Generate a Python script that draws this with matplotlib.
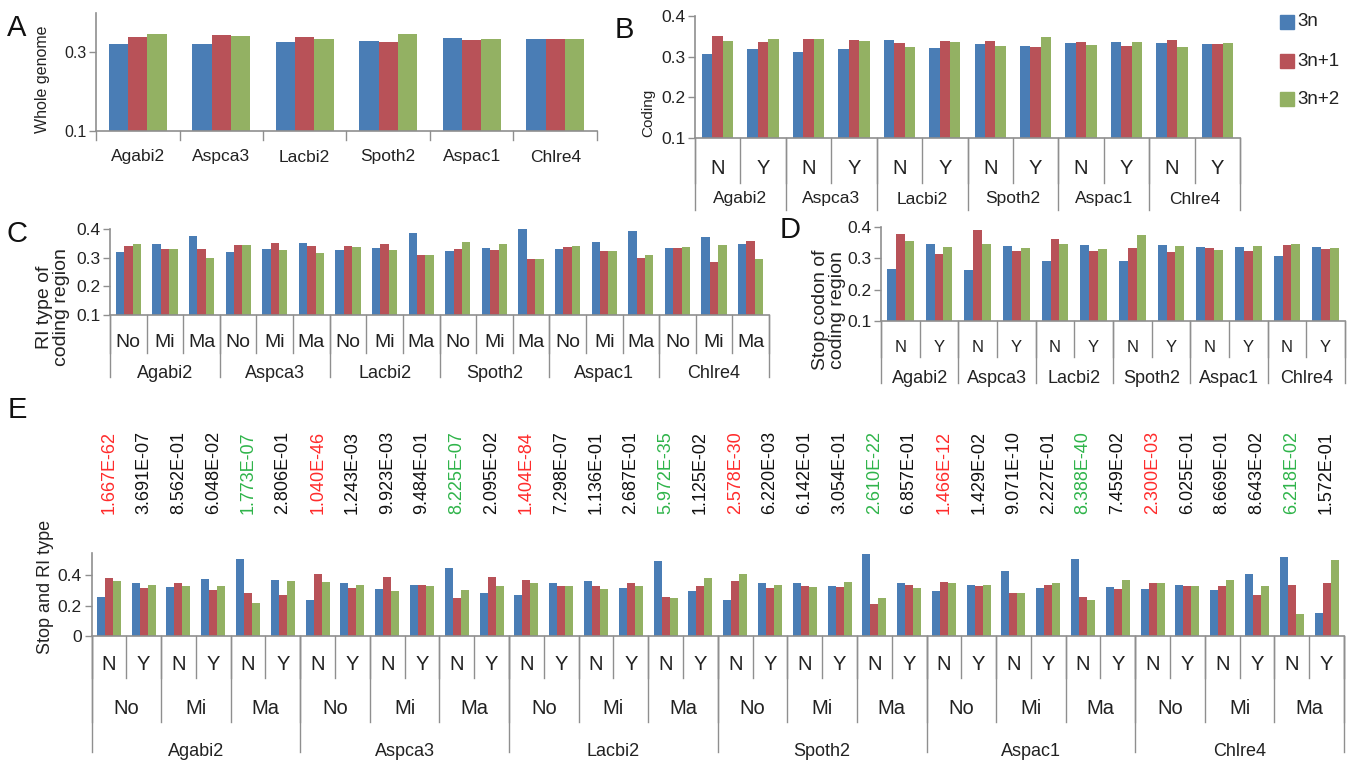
import numpy as np
import matplotlib
matplotlib.use('Agg')
import matplotlib.pyplot as plt
from matplotlib import font_manager
from matplotlib.transforms import blended_transform_factory
from matplotlib.patches import Rectangle

# categories
species = ['Agabi2', 'Aspca3', 'Lacbi2', 'Spoth2', 'Aspac1', 'Chlre4']
stop_levels = ['N', 'Y']
ri_levels = ['No', 'Mi', 'Ma']
series_names = ['3n', '3n+1', '3n+2']

# A: whole genome, one bar group per species
whole_3n = [0.320, 0.321, 0.327, 0.330, 0.336, 0.333]
whole_3n1 = [0.340, 0.344, 0.340, 0.327, 0.332, 0.334]
whole_3n2 = [0.346, 0.341, 0.335, 0.347, 0.335, 0.335]

# B: coding region, species x stop (N, Y)
coding_3n = [0.306, 0.318, 0.311, 0.319, 0.340, 0.322, 0.331, 0.327, 0.333, 0.335, 0.334, 0.331]
coding_3n1 = [0.352, 0.335, 0.343, 0.340, 0.334, 0.338, 0.339, 0.323, 0.335, 0.326, 0.341, 0.332]
coding_3n2 = [0.339, 0.343, 0.343, 0.338, 0.323, 0.336, 0.327, 0.348, 0.329, 0.335, 0.323, 0.334]

# C: RI type, species x (No, Mi, Ma)
ri_3n = [0.319, 0.347, 0.377, 0.319, 0.329, 0.351, 0.326, 0.335, 0.386,
         0.323, 0.333, 0.401, 0.330, 0.356, 0.392, 0.333, 0.373, 0.349]
ri_3n1 = [0.340, 0.331, 0.331, 0.343, 0.350, 0.340, 0.342, 0.346, 0.309,
          0.331, 0.328, 0.295, 0.337, 0.322, 0.298, 0.335, 0.286, 0.359]
ri_3n2 = [0.347, 0.331, 0.298, 0.345, 0.326, 0.316, 0.338, 0.326, 0.309,
          0.353, 0.346, 0.296, 0.339, 0.325, 0.311, 0.337, 0.345, 0.296]

# D: stop codon, species x stop (N, Y)
stop_3n = [0.266, 0.346, 0.264, 0.340, 0.290, 0.342, 0.292, 0.341, 0.336, 0.337, 0.309, 0.337]
stop_3n1 = [0.378, 0.315, 0.389, 0.322, 0.363, 0.324, 0.332, 0.319, 0.333, 0.323, 0.344, 0.329]
stop_3n2 = [0.355, 0.337, 0.346, 0.334, 0.345, 0.331, 0.373, 0.339, 0.328, 0.339, 0.346, 0.332]

# E: species x RI type x stop
both_3n = [0.260, 0.347, 0.324, 0.378, 0.507, 0.371, 0.240, 0.347, 0.311, 0.338, 0.449, 0.284,
           0.273, 0.347, 0.360, 0.318, 0.493, 0.296, 0.238, 0.347, 0.353, 0.327, 0.544, 0.347,
           0.296, 0.340, 0.431, 0.318, 0.507, 0.322, 0.309, 0.340, 0.307, 0.407, 0.524, 0.149]
both_3n1 = [0.382, 0.318, 0.347, 0.304, 0.282, 0.271, 0.407, 0.320, 0.389, 0.338, 0.251, 0.391,
            0.373, 0.327, 0.333, 0.351, 0.260, 0.331, 0.360, 0.320, 0.327, 0.322, 0.211, 0.340,
            0.358, 0.327, 0.287, 0.338, 0.260, 0.313, 0.347, 0.331, 0.327, 0.273, 0.336, 0.353]
both_3n2 = [0.360, 0.340, 0.333, 0.327, 0.218, 0.364, 0.358, 0.340, 0.300, 0.331, 0.302, 0.329,
            0.353, 0.333, 0.313, 0.333, 0.251, 0.380, 0.409, 0.340, 0.324, 0.358, 0.251, 0.316,
            0.353, 0.340, 0.287, 0.351, 0.238, 0.369, 0.349, 0.333, 0.369, 0.327, 0.147, 0.502]
pvalues = ['1.667E-62', '3.691E-07', '8.562E-01', '6.048E-02', '1.773E-07', '2.806E-01',
           '1.040E-46', '1.243E-03', '9.923E-03', '9.484E-01', '8.225E-07', '2.095E-02',
           '1.404E-84', '7.298E-07', '1.136E-01', '2.687E-01', '5.972E-35', '1.125E-02',
           '2.578E-30', '6.220E-03', '6.142E-01', '3.054E-01', '2.610E-22', '6.857E-01',
           '1.466E-12', '1.429E-02', '9.071E-10', '2.227E-01', '8.388E-40', '7.459E-02',
           '2.300E-03', '6.025E-01', '8.669E-01', '8.643E-02', '6.218E-02', '1.572E-01']

COLORS = ['#4a7db5', '#b85258', '#93b163']
GREY = '#8f8f8f'
TXT = '#222222'
BW = 0.23

names = {f.name for f in font_manager.fontManager.ttflist}
SANS = 'Liberation Sans'
NARROW = 'Liberation Sans Narrow' if 'Liberation Sans Narrow' in names else SANS

W, H = 1352, 764
fig = plt.figure(figsize=(W / 100, H / 100), dpi=100)


def fx(px):
    return px / W


def fy(py):
    return 1 - py / H


def make_axes(left, right, top, bottom):
    return fig.add_axes([fx(left), fy(bottom), fx(right - left), (bottom - top) / H])


def draw_bars(ax, s1, s2, s3):
    x = np.arange(len(s1))
    for k, vals in enumerate((s1, s2, s3)):
        ax.bar(x + (k - 1) * BW, vals, BW, color=COLORS[k], edgecolor='none')
    ax.set_xlim(-0.5, len(s1) - 0.5)


def style(ax, ylim, ticks, ticklabels, size, font):
    ax.set_ylim(*ylim)
    ax.set_yticks(ticks)
    ax.set_yticklabels(ticklabels, fontsize=size, family=font, color=TXT)
    ax.set_xticks([])
    for s in ['top', 'right']:
        ax.spines[s].set_visible(False)
    for s in ['left', 'bottom']:
        ax.spines[s].set_color(GREY)
        ax.spines[s].set_linewidth(1.2)
    ax.tick_params(axis='y', direction='out', length=5, width=1, color=GREY, pad=2)
    ax.patch.set_alpha(0)


def level(ax, n_per, y0, y1, labels, y_lab, size, font):
    # separators every n_per slots below the axis, labels centred on each block
    n_total = len(ax.patches) // 3
    trans = blended_transform_factory(ax.transData, fig.transFigure)
    for i in range(0, n_total + 1, n_per):
        ax.plot([i - 0.5, i - 0.5], [fy(y0), fy(y1)], transform=trans,
                color=GREY, lw=1, clip_on=False)
    for j in range(n_total // n_per):
        ax.text(j * n_per + (n_per - 1) / 2, fy(y_lab), labels[j % len(labels)],
                transform=trans, ha='center', va='center', fontsize=size,
                family=font, color=TXT)


def letter(px, py, s):
    fig.text(fx(px), fy(py), s, fontsize=21, family=SANS, ha='center', va='center', color='#111111')


def ylab(px, py, s, size):
    fig.text(fx(px), fy(py), s, fontsize=size, family=SANS, rotation=90,
             ha='center', va='center', color=TXT, linespacing=1.0)


# A
axA = make_axes(96, 597, 13, 131)
draw_bars(axA, whole_3n, whole_3n1, whole_3n2)
style(axA, (0.1, 0.4), [0.1, 0.3], ['0.1', '0.3'], 11.5, SANS)
level(axA, 1, 131, 140, species, 157, 12.5, SANS)
letter(17, 28, 'A')
ylab(43, 79, 'Whole genome', 11.5)

# B
axB = make_axes(695, 1240, 16, 138)
draw_bars(axB, coding_3n, coding_3n1, coding_3n2)
style(axB, (0.1, 0.4), [0.1, 0.2, 0.3, 0.4], ['0.1', '0.2', '0.3', '0.4'], 12.5, NARROW)
level(axB, 1, 138, 183, stop_levels, 168, 14.5, NARROW)
level(axB, 2, 138, 210, species, 199, 12.5, SANS)
letter(624, 30, 'B')
ylab(648, 113, 'Coding', 11)

# legend
for k, name in enumerate(series_names):
    yc = [22, 61, 99][k]
    fig.add_artist(Rectangle((fx(1280), fy(yc + 7)), fx(14), 14 / H,
                             transform=fig.transFigure, color=COLORS[k]))
    fig.text(fx(1297), fy(yc), name, fontsize=13.5, family=NARROW, va='center', color=TXT)

# C
axC = make_axes(110, 769, 229, 315)
draw_bars(axC, ri_3n, ri_3n1, ri_3n2)
style(axC, (0.1, 0.4), [0.1, 0.2, 0.3, 0.4], ['0.1', '0.2', '0.3', '0.4'], 12.5, NARROW)
level(axC, 1, 315, 353, ri_levels, 342, 14, NARROW)
level(axC, 3, 315, 377, species, 373, 13, SANS)
letter(17, 234, 'C')
ylab(53, 307, 'RI type of\ncoding region', 14)

# D
axD = make_axes(881, 1345, 227, 321)
draw_bars(axD, stop_3n, stop_3n1, stop_3n2)
style(axD, (0.1, 0.4), [0.1, 0.2, 0.3, 0.4], ['0.1', '0.2', '0.3', '0.4'], 12.5, SANS)
level(axD, 1, 321, 357, stop_levels, 347, 12, SANS)
level(axD, 2, 321, 383, species, 378, 13, SANS)
letter(790, 230, 'D')
ylab(829, 310, 'Stop codon of\ncoding region', 14)

# E
axE = make_axes(91.5, 1344, 553, 636)
draw_bars(axE, both_3n, both_3n1, both_3n2)
style(axE, (0, 0.548), [0, 0.2, 0.4], ['0', '0.2', '0.4'], 12.5, NARROW)
level(axE, 1, 636, 678, stop_levels, 665, 14.5, NARROW)
level(axE, 2, 636, 722, ri_levels, 708, 14.5, NARROW)
level(axE, 6, 636, 752, species, 752, 13, SANS)
letter(17, 410, 'E')
ylab(45, 587, 'Stop and RI type', 13)

# p-values above each N/Y block, coloured for No-N (red) and Ma-N (green)
transE = blended_transform_factory(axE.transData, fig.transFigure)
for i, p in enumerate(pvalues):
    ri = ri_levels[(i // 2) % 3]
    st = stop_levels[i % 2]
    c = '#ff2b2b' if (ri == 'No' and st == 'N') else '#2fb44a' if (ri == 'Ma' and st == 'N') else '#111111'
    axE.text(i, fy(514), p, transform=transE, rotation=90, ha='center', va='bottom',
             fontsize=13, family=SANS, color=c)

fig.savefig('out.png', dpi=100)
